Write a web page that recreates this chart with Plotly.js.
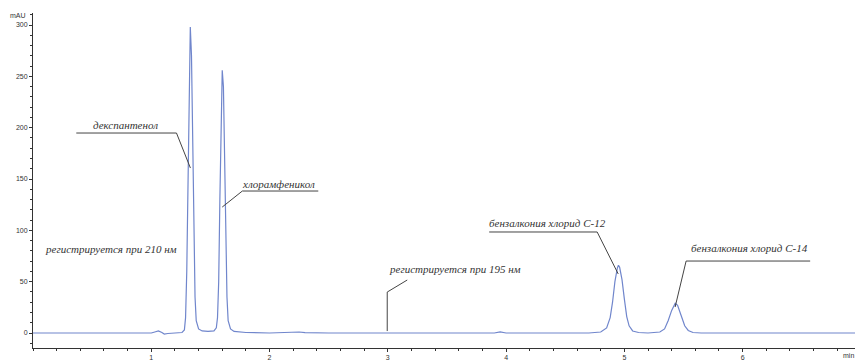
<!DOCTYPE html>
<html><head><meta charset="utf-8">
<script src="https://cdn.plot.ly/plotly-3.0.1.min.js"></script>
<style>html,body{margin:0;padding:0;background:#fff}#c{width:857px;height:360px}</style>
</head><body><div id="c"></div>
<script>
// retention time, min
const time = [0,0.5,1.0,1.03,1.06,1.09,1.11,1.14,1.2,1.26,1.28,1.29,1.30,1.31,1.32,1.33,1.34,1.35,1.36,1.37,1.38,1.40,1.43,1.48,1.53,1.55,1.56,1.57,1.58,1.59,1.60,1.61,1.62,1.63,1.64,1.65,1.67,1.70,1.8,2.0,2.2,2.25,2.3,2.5,3.0,3.9,3.95,4.0,4.7,4.8,4.85,4.88,4.90,4.92,4.94,4.95,4.96,4.98,5.00,5.02,5.04,5.07,5.12,5.2,5.3,5.34,5.37,5.40,5.43,5.45,5.48,5.51,5.54,5.58,5.65,6.95];
// absorbance, mAU
const signal = [0,0,0,1,2,0.5,-1,-0.5,0,0.5,3,15,60,150,250,298,270,180,90,35,12,4,2,1.5,2,5,15,50,130,215,256,240,170,90,35,12,4,1.5,0.5,0,0.5,1,0.3,0,0,0,1,0,0,1,5,15,30,50,63,66,64,52,33,16,7,2,0.5,0,1,4,12,22,29,27,17,7,2.5,0.5,0,0];
const xTickVals = [1,2,3,4,5,6];
const yTickVals = [0,50,100,150,200,250,300];
const labels = ['декспантенол','хлорамфеникол','регистрируется при 210 нм','регистрируется при 195 нм','бензалкония хлорид С-12','бензалкония хлорид С-14'];

const annFont = {family:"'Liberation Serif', 'Times New Roman', serif", size:11, color:'#333', style:'italic'};
function ann(text,x,y,xa){return {text:text,x:x,y:y,xref:'x',yref:'y',showarrow:false,xanchor:xa||'left',yanchor:'middle',font:annFont};}
function path(pts){let d='M'+pts.map(p=>p[0]+','+p[1]).join(' L');return {type:'path',path:d,xref:'x',yref:'y',line:{color:'#444',width:1}};}

const layout = {
  width:857,height:360,
  margin:{l:33,r:2,t:13,b:12},
  paper_bgcolor:'#fff',plot_bgcolor:'#fff',
  showlegend:false,
  font:{family:'Liberation Sans, Arial, sans-serif',size:7,color:'#333'},
  xaxis:{range:[0,6.95],showgrid:false,zeroline:false,showline:true,linecolor:'#333',linewidth:1,
    tickmode:'array',tickvals:xTickVals,ticks:'outside',ticklen:3,tickcolor:'#333',
    minor:{dtick:0.2,tick0:0,ticks:'outside',ticklen:2,tickcolor:'#333'},tickfont:{size:7}},
  yaxis:{range:[-14.6,311.7],showgrid:false,zeroline:false,showline:true,linecolor:'#333',linewidth:1,
    tickmode:'array',tickvals:yTickVals,ticks:'outside',ticklen:3,tickcolor:'#333',
    minor:{dtick:10,tick0:0,ticks:'outside',ticklen:2,tickcolor:'#333'},tickfont:{size:7}},
  annotations:[
    ann(labels[0],0.78,202.6,'center'),
    ann(labels[1],1.752,145.1),
    ann(labels[2],0.087,81.8),
    ann(labels[3],2.995,62.3),
    ann(labels[4],3.84,107.1),
    ann(labels[5],5.548,82.8),
    {text:'mAU',xref:'paper',yref:'paper',x:-0.0,y:1.0,xanchor:'right',yanchor:'middle',xshift:-5,yshift:-2,showarrow:false,font:{size:7,color:'#333'}},
    {text:'min',xref:'paper',yref:'paper',x:1,y:0,xanchor:'right',yanchor:'top',xshift:1,yshift:-2,showarrow:false,font:{size:7,color:'#333'}}
  ],
  shapes:[
    path([[0.366,194.8],[1.213,194.8],[1.331,160.7]]),
    path([[2.412,138.3],[1.770,138.3],[1.600,122.7]]),
    path([[3.164,51.6],[2.995,39.9],[2.995,1.9]]),
    path([[3.857,98.4],[4.770,98.4],[4.948,57.5]]),
    path([[6.571,70.1],[5.522,70.1],[5.429,25.3]])
  ]
};
Plotly.newPlot('c',[{x:time,y:signal,type:'scatter',mode:'lines',line:{color:'#7086cc',width:1.2}}],layout,{displayModeBar:false,staticPlot:true});
</script></body></html>
